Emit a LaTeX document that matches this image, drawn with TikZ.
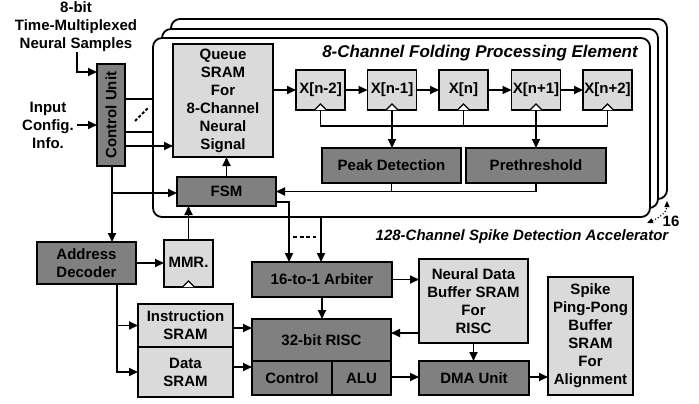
\documentclass[tikz,border=0pt]{standalone}
\usepackage{fontspec}
\usepackage{graphicx}
\setmainfont{Liberation Sans}
\usetikzlibrary{arrows.meta}
\definecolor{dk}{RGB}{128,128,128}
\definecolor{lt}{RGB}{218,218,218}
\begin{document}
\begin{tikzpicture}[x=1pt,y=-1pt,
  font=\fontsize{15}{18}\selectfont\bfseries,
  box/.style={draw, line width=1.8pt, inner sep=0pt, outer sep=0pt, align=center},
  dbox/.style={box, fill=dk},
  lbox/.style={box, fill=lt},
  lbl/.style={inner sep=0pt, align=center},
  ln/.style={line width=1.8pt},
  thin/.style={line width=1.1pt},
  arr/.style={ln, -{Triangle[length=9pt,width=8pt]}},
  frame/.style={line width=1.8pt, rounded corners=9pt, fill=white},
  clk/.style={line width=1.1pt, fill=white}
]
\useasboundingbox (0,0) rectangle (699,404);

% stacked processing-element frames
\draw[frame] (171,19) rectangle (667,199);
\draw[frame] (162,29) rectangle (658,208);
\draw[frame] (153,38) rectangle (650,217);

% text labels
\node[lbl] (inp8) at (76,27) {8-bit\\Time-Multiplexed\\Neural Samples};
\node[lbl] (incfg) at (48,125) {Input\\Config.\\Info.};
\node[lbl, font=\fontsize{17}{20}\selectfont\bfseries\itshape] (petitle) at (480,53) {8-Channel Folding Processing Element};
\node[lbl, font=\fontsize{15}{18}\selectfont\bfseries\itshape] (acctitle) at (522,237) {128-Channel Spike Detection Accelerator};
\node[lbl] (sixteen) at (671,221) {16};

% boxes
\node[dbox, minimum width=28pt, minimum height=102pt] (ctrl) at (111,115) {\rotatebox{90}{Control Unit}};
\node[lbox, minimum width=100pt, minimum height=113pt] (queue) at (223,100.5) {Queue\\SRAM\\For\\8-Channel\\Neural\\Signal};
\node[lbox, minimum width=49pt, minimum height=40pt] (x1) at (320.5,90) {X[n-2]};
\node[lbox, minimum width=49pt, minimum height=40pt] (x2) at (392,90) {X[n-1]};
\node[lbox, minimum width=49pt, minimum height=40pt] (x3) at (463.5,90) {X[n]};
\node[lbox, minimum width=49pt, minimum height=40pt] (x4) at (536,90) {X[n+1]};
\node[lbox, minimum width=49pt, minimum height=40pt] (x5) at (607.5,90) {X[n+2]};
\node[dbox, minimum width=139pt, minimum height=35pt] (peak) at (391.5,165.5) {Peak Detection};
\node[dbox, minimum width=140pt, minimum height=35pt] (preth) at (536,165.5) {Prethreshold};
\node[dbox, minimum width=99pt, minimum height=29pt] (fsm) at (226.5,191.5) {FSM};
\node[dbox, minimum width=99pt, minimum height=42pt] (addr) at (86.5,263) {Address\\Decoder};
\node[lbox, minimum width=49pt, minimum height=47pt] (mmr) at (188.5,263.5) {\raisebox{3pt}{MMR.}};
\node[lbox, minimum width=95pt, minimum height=43pt] (instr) at (185.5,325.5) {Instruction\\SRAM};
\node[lbox, minimum width=95pt, minimum height=50pt] (data) at (185.5,372) {Data\\SRAM};
\node[dbox, minimum width=139pt, minimum height=42pt] (risc) at (321.5,340) {32-bit RISC};
\node[dbox, minimum width=80pt, minimum height=34pt] (rctl) at (292,378) {Control};
\node[dbox, minimum width=59pt, minimum height=34pt] (alu) at (361.5,378) {ALU};
\node[dbox, minimum width=140pt, minimum height=35pt] (arb) at (322,279.5) {16-to-1 Arbiter};
\node[lbox, minimum width=109pt, minimum height=84pt] (ndb) at (473.5,301) {Neural Data\\Buffer SRAM\\For\\RISC};
\node[dbox, minimum width=110pt, minimum height=34pt] (dma) at (474,378) {DMA Unit};
\node[lbox, minimum width=85pt, minimum height=118pt] (spike) at (590.5,336) {Spike\\Ping-Pong\\Buffer\\SRAM\\For\\Alignment};

% clock marks
\foreach \n in {x1,x2,x3,x4,x5,mmr}{
  \draw[clk] ([xshift=-6pt]\n.south) -- ([yshift=6pt]\n.south) -- ([xshift=6pt]\n.south);
}

% inputs to control unit
\coordinate (inbend) at (77,72);
\draw[arr] (inp8.south -| inbend) -- (inbend) -- (inbend -| ctrl.west);
\draw[arr] ([xshift=3pt]incfg.east) -- (incfg.east -| ctrl.west);

% control unit to PE
\coordinate (c1) at (125,99);
\coordinate (c2) at (125,132);
\coordinate (c3) at (125,146);
\draw[ln] (c1) -- (153,99);
\draw[ln] (c2) -- (153,132);
\draw[ln, dashed, dash pattern=on 3pt off 2pt] (135,121) -- (149,107);
\draw[arr] (c3) -- (c3 -| queue.west);

% control unit down
\coordinate (cb) at (112,166);
\coordinate (cbr) at (112,193);
\draw[arr] (cb) -- (cb |- addr.north);
\draw[arr] (cbr) -- (cbr -| fsm.west);
\draw[arr] (fsm.north) -- (fsm.north |- queue.south);
\draw[arr] (mmr.north) -- (mmr.north |- fsm.south);
\draw[arr] (addr.east) -- (addr.east -| mmr.west);

% address decoder to SRAMs
\coordinate (ab) at (117,284);
\draw[arr] (ab) |- (instr.west);
\draw[arr] (ab) |- (data.west);
\coordinate (i1) at (233,328);
\coordinate (d1) at (233,367);
\draw[arr] (i1) -- (i1 -| risc.west);
\draw[arr] (d1) -- (d1 -| rctl.west);

% shift register chain
\coordinate (q1) at (273,90);
\draw[arr] (q1) -- (x1.west);
\draw[arr] (x1.east) -- (x2.west);
\draw[arr] (x2.east) -- (x3.west);
\draw[arr] (x3.east) -- (x4.west);
\draw[arr] (x4.east) -- (x5.west);

% clock bus and taps
\coordinate (bus) at (0,126);
\draw[thin] (x1.south) |- (bus -| x5.south) -- (x5.south);
\draw[thin] (x3.south) -- (bus -| x3.south);
\draw[ln] (bus -| x2.south) -- (bus -| x4.south);
\draw[arr] (x2.south) -- (x2.south |- peak.north);
\draw[arr] (x4.south) -- (x4.south |- preth.north);

% detectors to FSM
\draw[arr] (preth.south) |- (fsm.east);
\draw[ln] (peak.south) -- (peak.south |- fsm.east);

% FSM / PE to arbiter
\coordinate (f1) at (276,202);
\coordinate (f2) at (289,202);
\coordinate (pb) at (321,217);
\draw[arr] (f1) -- (f2) -- (f2 |- arb.north);
\draw[arr] (pb) -- (pb |- arb.north);
\draw[line width=1.5pt, dash pattern=on 4pt off 2.5pt] (293,237) -- (316,237);

% datapath
\draw[arr] (arb.south) -- (arb.south |- risc.north);
\draw[arr] (arb.east) -- (arb.east -| ndb.west);
\coordinate (n1) at (419,333);
\draw[arr] (n1) -- (n1 -| risc.east);
\draw[arr] (ndb.south) -- (ndb.south |- dma.north);
\coordinate (a1) at (391,377);
\draw[arr] (a1) -- (a1 -| dma.west);
\coordinate (m1) at (529,377);
\draw[arr] (m1) -- (m1 -| spike.west);

% 16 replicas indicator
\coordinate (r1) at (647,223);
\coordinate (r2) at (667,201);
\draw[line width=1.1pt, dotted, {Triangle[length=6pt,width=5pt]}-{Triangle[length=6pt,width=5pt]}] (r1) .. controls (659,218) and (667,212) .. (r2);
\end{tikzpicture}
\end{document}
